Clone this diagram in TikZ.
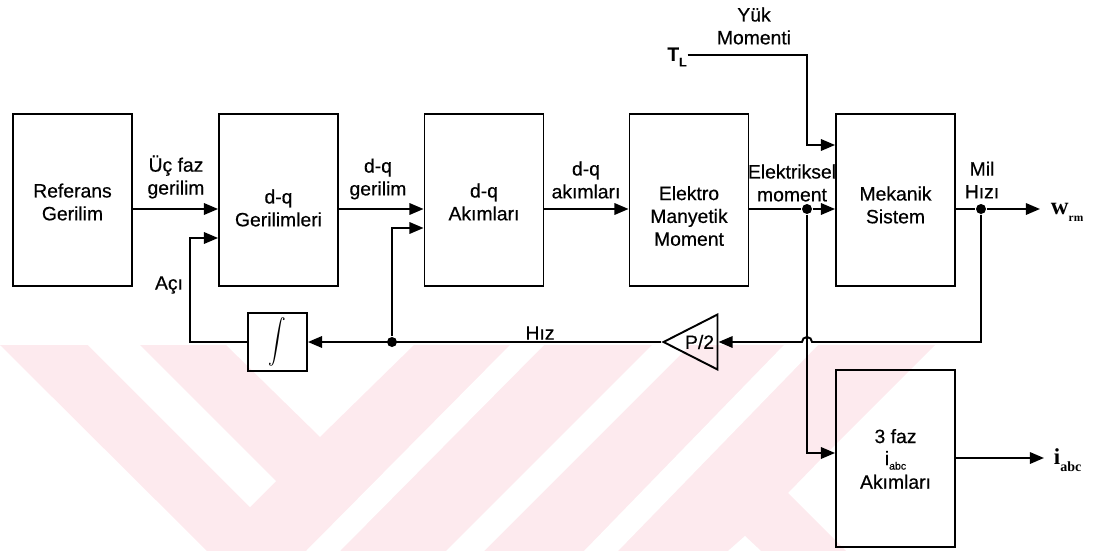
\documentclass[tikz,border=0pt]{standalone}
\usepackage{fontspec}
\setmainfont{Liberation Sans}[FakeBold=0.5]
\newfontfamily\seriffont{Liberation Serif}
\usetikzlibrary{positioning}
\usetikzlibrary{calc}
\usetikzlibrary{arrows.meta}
\usetikzlibrary{shapes.geometric}
\definecolor{wmark}{RGB}{253,234,238}

\begin{document}
\begin{tikzpicture}[x=0.02cm, y=-0.02cm, line width=1.1pt,
  blk/.style={draw, line width=1.1pt, minimum width=2.38cm, minimum height=3.44cm, inner sep=0pt},
  txt/.style={align=center, inner sep=0pt, font=\fontsize{11}{13}\selectfont},
  sig/.style={-{Triangle[length=8pt,width=6.5pt]}},
  jdot/.style={circle, fill, inner sep=0pt, minimum size=0.2cm}]

\useasboundingbox (0,0) rectangle (1096,551);

%---------------------------------------
% Background watermark
%---------------------------------------
\fill[wmark] (0,345) -- (226,345) -- (320,437) -- (414,345) -- (935,345)
  -- (822,458) -- (788,493) -- (846,551) -- (207,551) -- cycle;
\fill[white] (88,345) -- (140,345) -- (276,481) -- (250,507) -- cycle;
\fill[white] (510,345) -- (544,345) -- (340,551) -- (306,551) -- cycle;
\fill[white] (652,345) -- (690,345) -- (484,551) -- (446,551) -- cycle;
\fill[white] (784,345) -- (818,345) -- (618,551) -- (584,551) -- cycle;
\fill[white] (728,551) -- (745,536) -- (761,551) -- cycle;

%---------------------------------------
% Levels of the signal lines
%---------------------------------------
\coordinate (lvl) at (0,209);   % main chain
\coordinate (acy) at (0,238);   % angle input
\coordinate (hzy) at (0,228);   % speed input
\coordinate (tly) at (0,145);   % load torque input
\coordinate (tll) at (0,55);    % load torque line
\coordinate (fzy) at (0,453);   % 3 phase input
\coordinate (fzo) at (0,458);   % 3 phase output

%---------------------------------------
% Blocks
%---------------------------------------
\node[blk] (ref) at (72.5,200) {};
\node[blk] (ger) at (278.5,200) {};
\node[blk] (akm) at (484,200) {};
\node[blk] (emm) at (689,200) {};
\node[blk] (mek) at (895.5,200) {};
\node[blk, minimum height=3.54cm] (faz) at (895.5,458.5) {};
\node[draw, minimum width=1.18cm, minimum height=1.16cm, inner sep=0pt] (integ) at (277.5,342)
  {\scalebox{1}[1.25]{$\displaystyle\int$}};
\node[draw, isosceles triangle, shape border rotate=180, isosceles triangle stretches,
  minimum width=1.1cm, minimum height=1.08cm, inner sep=0pt, anchor=apex,
  font=\fontsize{11}{13}\selectfont] (p2) at (661,342) {P/2};

% Block texts
\node[txt] (ref-t) at (72.5,202) {Referans\\Gerilim};
\node[txt] (ger-t) at (278.5,208) {d-q\\Gerilimleri};
\node[txt] (akm-t) at (484,202) {d-q\\Akımları};
\node[txt] (emm-t) at (689,216) {Elektro\\Manyetik\\Moment};
\node[txt] (mek-t) at (895.5,205) {Mekanik\\Sistem};
\node[txt, font=\fontsize{11}{11}\selectfont] (faz-t) at (895.5,459)
  {3 faz\\[1.5pt]i\raisebox{-0.45ex}{\fontsize{6}{6}\selectfont abc}\\[2.5pt]Akımları};

% Junctions
\node[jdot] (jE) at (807,209) {};
\node[jdot] (jM) at (981,209) {};
\node[jdot] (jH) at (392,342) {};
\coordinate (aci) at (190,238);
\coordinate (wout) at (1040,209);
\coordinate (iout) at (1044,458);

%---------------------------------------
% Signal labels
%---------------------------------------
\node[txt] (ucfaz) at (176,177) {Üç faz\\gerilim};
\node[txt] (dqg) at (378,179) {d-q\\gerilim};
\node[txt] (dqa) at (586,180) {d-q\\akımları};
\node[txt] (elm) at (792,183) {Elektriksel\\moment};
\node[txt] (milh) at (982,180) {Mil\\Hızı};
\node[txt] (yuk) at (754,26) {Yük\\Momenti};
\node[txt, font=\fontsize{11}{13}\selectfont\bfseries] (tl) at (677,57)
  {T\raisebox{-0.55ex}{\fontsize{7}{7}\selectfont L}};
\node[txt] (aci-t) at (169,285) {Açı};
\node[txt] (hiz-t) at (540,333) {Hız};
\node[inner sep=0pt, anchor=west] (wrm) at (1050,212)
  {\seriffont\bfseries\fontsize{14}{14}\selectfont w\raisebox{-0.6ex}{\fontsize{6.5}{6.5}\selectfont rm}};
\node[inner sep=0pt, anchor=west] (iabc) at (1053,460)
  {\seriffont\bfseries\fontsize{13}{13}\selectfont i\raisebox{-0.6ex}{\fontsize{8}{8}\selectfont abc}};

%---------------------------------------
% Connectors
%---------------------------------------
\draw[sig] (ref.east |- lvl) -- (ger.west |- lvl);
\draw[sig] (ger.east |- lvl) -- (akm.west |- lvl);
\draw[sig] (akm.east |- lvl) -- (emm.west |- lvl);
\draw (emm.east |- lvl) -- (jE);
\draw[sig] (jE) -- (mek.west |- lvl);
\draw (mek.east |- lvl) -- (jM);
\draw[sig] (jM) -- (wout);
\draw[sig] (tl.east |- tll) -| (jE |- tly) -- (mek.west |- tly);
\draw[sig] (jE) |- (faz.west |- fzy);
\draw[sig] (faz.east |- fzo) -- (iout);

% speed feedback
\draw[sig] (jM) -- (jM |- integ) -- (812,342)
  arc[start angle=0, end angle=180, radius=0.1cm] -- (p2.east);
\draw[sig] (p2.apex) -- (integ.east);
\draw[sig] (jH) |- (akm.west |- hzy);
\draw[sig] (integ.west) -| (aci) -- (ger.west |- aci);

\end{tikzpicture}
\end{document}
